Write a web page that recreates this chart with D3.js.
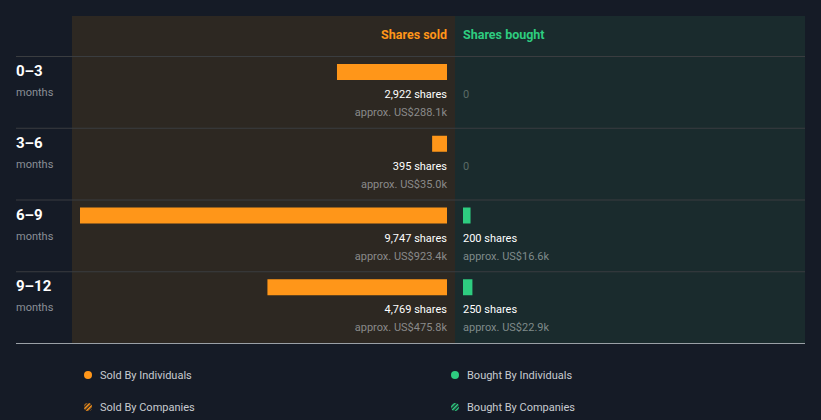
<!DOCTYPE html>
<html><head><meta charset="utf-8">
<script src="https://cdn.jsdelivr.net/npm/d3@7"></script>
<style>
html,body{margin:0;padding:0;background:#151b26;}
svg{display:block;font-family:Roboto,"Noto Sans",sans-serif;}
</style></head>
<body>
<script>
const periods = ["0\u20133", "3\u20136", "6\u20139", "9\u201312"];
const periodUnit = "months";
const soldShares = [2922, 395, 9747, 4769];
const soldValue = ["US$288.1k", "US$35.0k", "US$923.4k", "US$475.8k"];
const boughtShares = [0, 0, 200, 250];
const boughtValue = ["", "", "US$16.6k", "US$22.9k"];
const headers = ["Shares sold", "Shares bought"];
const legendItems = ["Sold By Individuals", "Bought By Individuals", "Sold By Companies", "Bought By Companies"];

(function(){
const W = 821, H = 420;
const ORANGE = "#ff9619", GREEN = "#2ecc80";
const svg = d3.select("body").append("svg").attr("width", W).attr("height", H);

const defs = svg.append("defs");
function hatch(id, col){
  const p = defs.append("pattern").attr("id", id).attr("patternUnits","userSpaceOnUse")
    .attr("width",3).attr("height",3).attr("patternTransform","rotate(45)");
  p.append("rect").attr("width",3).attr("height",3).attr("fill","#151b26");
  p.append("rect").attr("width",1.6).attr("height",3).attr("fill",col);
}
hatch("hO", ORANGE); hatch("hG", GREEN);

const panelTop = 16, headerH = 40, panelBottom = 343;
const midX = 455, soldLeft = 72, boughtRight = 805;
svg.append("rect").attr("x", soldLeft).attr("y", panelTop).attr("width", midX - soldLeft).attr("height", panelBottom - panelTop).attr("fill", "#2d2822");
svg.append("rect").attr("x", midX).attr("y", panelTop).attr("width", boughtRight - midX).attr("height", panelBottom - panelTop).attr("fill", "#1a2b2d");

const y = d3.scaleBand().domain(periods).range([panelTop + headerH, panelBottom]);
const maxV = d3.max(soldShares.concat(boughtShares));
const len = d3.scaleLinear().domain([0, maxV]).range([0, 367]);
const soldEnd = 447, boughtStart = 463;

svg.append("text").attr("x", soldEnd).attr("y", 39).attr("text-anchor","end")
  .attr("fill", ORANGE).attr("font-size", 12.5).attr("font-weight", 700).text(headers[0]);
svg.append("text").attr("x", boughtStart).attr("y", 39)
  .attr("fill", GREEN).attr("font-size", 12.5).attr("font-weight", 700).text(headers[1]);

periods.forEach(p => {
  svg.append("line").attr("x1", 16).attr("x2", boughtRight).attr("y1", y(p)+0.5).attr("y2", y(p)+0.5)
    .attr("stroke", "#3a3d40").attr("stroke-width", 1);
});
svg.append("line").attr("x1", 16).attr("x2", boughtRight).attr("y1", panelBottom+0.5).attr("y2", panelBottom+0.5)
  .attr("stroke", "#9aa0a6").attr("stroke-width", 1);

periods.forEach((p, i) => {
  const y0 = y(p);
  svg.append("text").attr("x", 16).attr("y", y0 + 20).attr("fill", "#ffffff")
    .attr("font-size", 15).attr("font-weight", 700).text(p);
  svg.append("text").attr("x", 16).attr("y", y0 + 40).attr("fill", "#8a8f96")
    .attr("font-size", 11).text(periodUnit);

  const sw = len(soldShares[i]);
  svg.append("rect").attr("x", soldEnd - sw).attr("y", y0 + 8).attr("width", sw).attr("height", 16).attr("fill", ORANGE);
  svg.append("text").attr("x", soldEnd).attr("y", y0 + 42).attr("text-anchor","end").attr("fill","#ffffff")
    .attr("font-size", 11).text(d3.format(",")(soldShares[i]) + " shares");
  svg.append("text").attr("x", soldEnd).attr("y", y0 + 60).attr("text-anchor","end").attr("fill","#8a8a8a")
    .attr("font-size", 11).text("approx. " + soldValue[i]);

  if (boughtShares[i] > 0) {
    svg.append("rect").attr("x", boughtStart).attr("y", y0 + 8).attr("width", len(boughtShares[i])).attr("height", 16).attr("fill", GREEN);
    svg.append("text").attr("x", boughtStart).attr("y", y0 + 42).attr("fill","#ffffff")
      .attr("font-size", 11).text(d3.format(",")(boughtShares[i]) + " shares");
    svg.append("text").attr("x", boughtStart).attr("y", y0 + 60).attr("fill","#7f8a8a")
      .attr("font-size", 11).text("approx. " + boughtValue[i]);
  } else {
    svg.append("text").attr("x", boughtStart).attr("y", y0 + 42).attr("fill","#5a6a66")
      .attr("font-size", 11).text("0");
  }
});

const legPos = [[88, 375], [455, 375], [88, 407], [455, 407]];
const legFill = [ORANGE, GREEN, "url(#hO)", "url(#hG)"];
legendItems.forEach((t, i) => {
  const [lx, ly] = legPos[i];
  svg.append("circle").attr("cx", lx).attr("cy", ly).attr("r", 4).attr("fill", legFill[i]);
  svg.append("text").attr("x", lx + 12).attr("y", ly + 4).attr("fill", "#c8cbd0").attr("font-size", 11).text(t);
});
})();
</script>
</body></html>
